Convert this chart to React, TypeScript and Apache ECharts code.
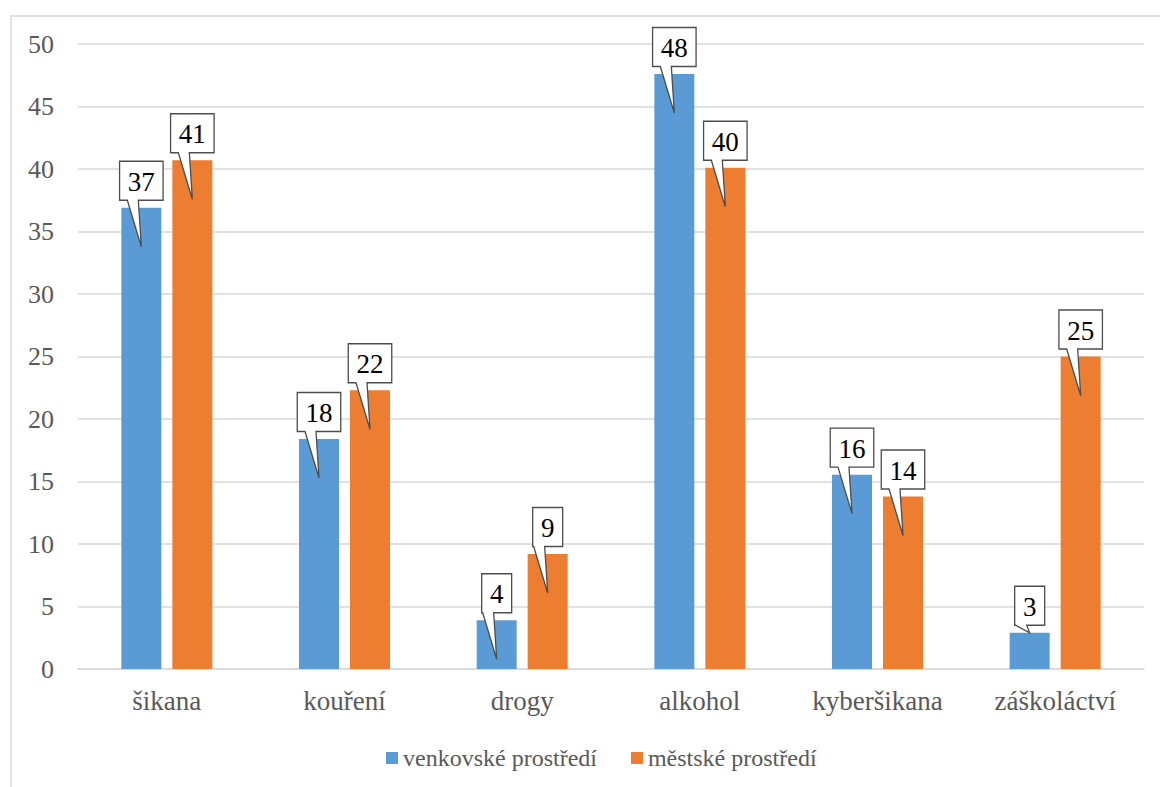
import React, { useEffect, useRef } from "react";
import * as echarts from "echarts";

const categories = ["šikana", "kouření", "drogy", "alkohol", "kyberšikana", "záškoláctví"];
const seriesNames = ["venkovské prostředí", "městské prostředí"];
const ruralValues = [36.9, 18.4, 3.9, 47.6, 15.55, 2.9];
const urbanValues = [40.7, 22.3, 9.2, 40.1, 13.8, 25.0];
const yTicks = { min: 0, max: 50, interval: 5 };
const colors = ["#5B9BD5", "#ED7D31"];

const FONT = "Liberation Serif";
const BAR_W = 40;
const BAR_GAP_PX = 11;
const HALF_OFFSET = (BAR_W + BAR_GAP_PX) / 2;

function callout(offsetSign: number) {
  return (params: any, api: any) => {
    const idx = api.value(0);
    const val = api.value(1);
    const top = api.coord([idx, val]);
    const zero = api.coord([idx, 0]);
    const cx = top[0] + offsetSign * HALF_OFFSET;
    const barTop = top[1];
    const label = String(Math.round(val));
    const boxH = 39;
    const boxW = label.length * 13.5 + 16.5;
    const B = barTop - 7.5;
    const T = B - boxH;
    const L = cx - boxW / 2;
    const R = cx + boxW / 2;
    let tipY = barTop + 39;
    if (tipY > zero[1] - 5) tipY = barTop;
    const tipX = cx;
    return {
      type: "group",
      children: [
        {
          type: "polygon",
          shape: {
            points: [
              [L, T],
              [R, T],
              [R, B],
              [cx - 3, B],
              [tipX, tipY],
              [cx - 14, B],
              [L, B],
            ],
          },
          style: { fill: "#ffffff", stroke: "#4d4d4d", lineWidth: 1.3 },
        },
        {
          type: "text",
          style: {
            text: label,
            x: cx,
            y: T + boxH / 2 + 1,
            align: "center",
            verticalAlign: "middle",
            fontFamily: FONT,
            fontSize: 27,
            fill: "#000000",
          },
        },
      ],
    };
  };
}

export default function App() {
  const ref = useRef<HTMLDivElement>(null);
  useEffect(() => {
    if (!ref.current) return;
    const chart = echarts.init(ref.current, undefined, { renderer: "svg" });
    chart.setOption({
      animation: false,
      backgroundColor: "#ffffff",
      textStyle: { fontFamily: FONT },
      graphic: [
        {
          type: "rect",
          shape: { x: 11, y: 16, width: 1200, height: 900 },
          style: { fill: "transparent", stroke: "#D9D9D9", lineWidth: 1.5 },
          silent: true,
        },
      ],
      grid: { left: 78, right: 16, top: 44, bottom: 118, containLabel: false },
      legend: {
        data: seriesNames,
        left: 381,
        top: 741,
        icon: "rect",
        itemWidth: 12,
        itemHeight: 12,
        itemGap: 34,
        textStyle: { fontFamily: FONT, fontSize: 24, color: "#595959" },
      },
      xAxis: {
        type: "category",
        data: categories,
        axisLine: { show: true, lineStyle: { color: "#D9D9D9", width: 1.5 } },
        axisTick: { show: false },
        axisLabel: { fontFamily: FONT, fontSize: 27, color: "#595959", margin: 18, interval: 0 },
      },
      yAxis: {
        type: "value",
        min: yTicks.min,
        max: yTicks.max,
        interval: yTicks.interval,
        axisLine: { show: false },
        axisTick: { show: false },
        splitLine: { lineStyle: { color: "#D9D9D9", width: 1.5 } },
        axisLabel: { fontFamily: FONT, fontSize: 26, color: "#595959", margin: 24 },
      },
      series: [
        {
          name: seriesNames[0],
          type: "bar",
          data: ruralValues,
          barWidth: BAR_W,
          barGap: `${(BAR_GAP_PX / BAR_W) * 100}%`,
          itemStyle: { color: colors[0] },
        },
        {
          name: seriesNames[1],
          type: "bar",
          data: urbanValues,
          barWidth: BAR_W,
          barGap: `${(BAR_GAP_PX / BAR_W) * 100}%`,
          itemStyle: { color: colors[1] },
        },
        {
          name: "callouts-rural",
          type: "custom",
          renderItem: callout(-1),
          data: ruralValues.map((v, i) => [i, v]),
          encode: { x: 0, y: 1 },
          z: 10,
          silent: true,
        },
        {
          name: "callouts-urban",
          type: "custom",
          renderItem: callout(1),
          data: urbanValues.map((v, i) => [i, v]),
          encode: { x: 0, y: 1 },
          z: 10,
          silent: true,
        },
      ],
    });
    return () => chart.dispose();
  }, []);
  return (
    <div
      ref={ref}
      style={{ position: "fixed", left: 0, top: 0, width: 1160, height: 787 }}
    />
  );
}
